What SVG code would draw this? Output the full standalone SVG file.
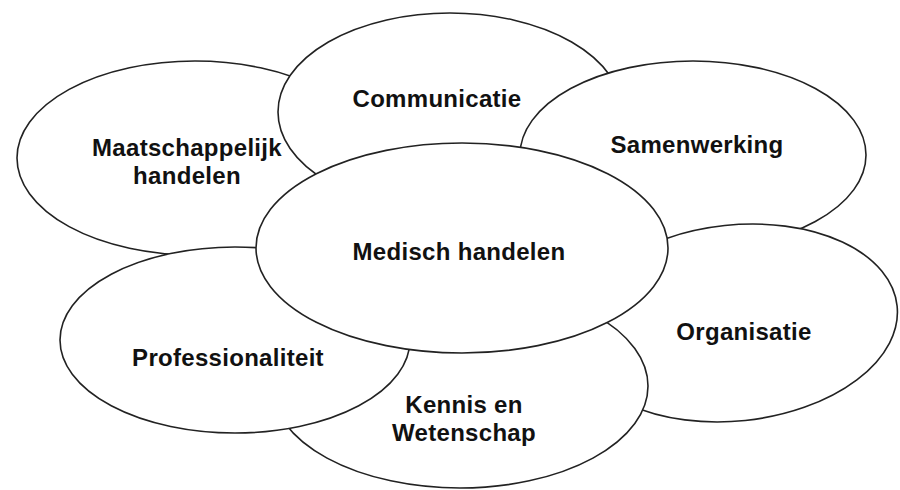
<svg xmlns="http://www.w3.org/2000/svg" width="900" height="490" viewBox="0 0 900 490">
<style>
.e{fill:#fff;stroke:#222;stroke-width:1.6}
.t{font-family:"Liberation Sans",Arial,sans-serif;font-weight:bold;font-size:24px;fill:#111;text-anchor:middle;letter-spacing:0.3px}
</style>
<rect width="900" height="490" fill="#fff"/>
<g id="connectors"/>
<g id="maatschappelijk">
<ellipse class="e" cx="195" cy="158" rx="178" ry="97"/>
<text class="t" x="187" y="156">Maatschappelijk</text>
<text class="t" x="187" y="184">handelen</text>
</g>
<g id="communicatie">
<ellipse class="e" cx="450" cy="112" rx="172" ry="99"/>
<text class="t" x="437" y="107">Communicatie</text>
</g>
<g id="samenwerking">
<ellipse class="e" cx="693" cy="155" rx="173" ry="94"/>
<text class="t" x="697" y="153">Samenwerking</text>
</g>
<g id="organisatie">
<ellipse class="e" cx="735" cy="323" rx="163" ry="98" transform="rotate(-6 735 323)"/>
<text class="t" x="744" y="340">Organisatie</text>
</g>
<g id="kennis">
<ellipse class="e" cx="460" cy="386" rx="188" ry="102"/>
<text class="t" x="464" y="413">Kennis en</text>
<text class="t" x="464" y="441">Wetenschap</text>
</g>
<g id="professionaliteit">
<ellipse class="e" cx="235" cy="340" rx="175" ry="93"/>
<text class="t" x="228" y="366">Professionaliteit</text>
</g>
<g id="medisch">
<ellipse class="e" cx="462" cy="248" rx="206" ry="105"/>
<text class="t" x="459" y="260">Medisch handelen</text>
</g>
</svg>
